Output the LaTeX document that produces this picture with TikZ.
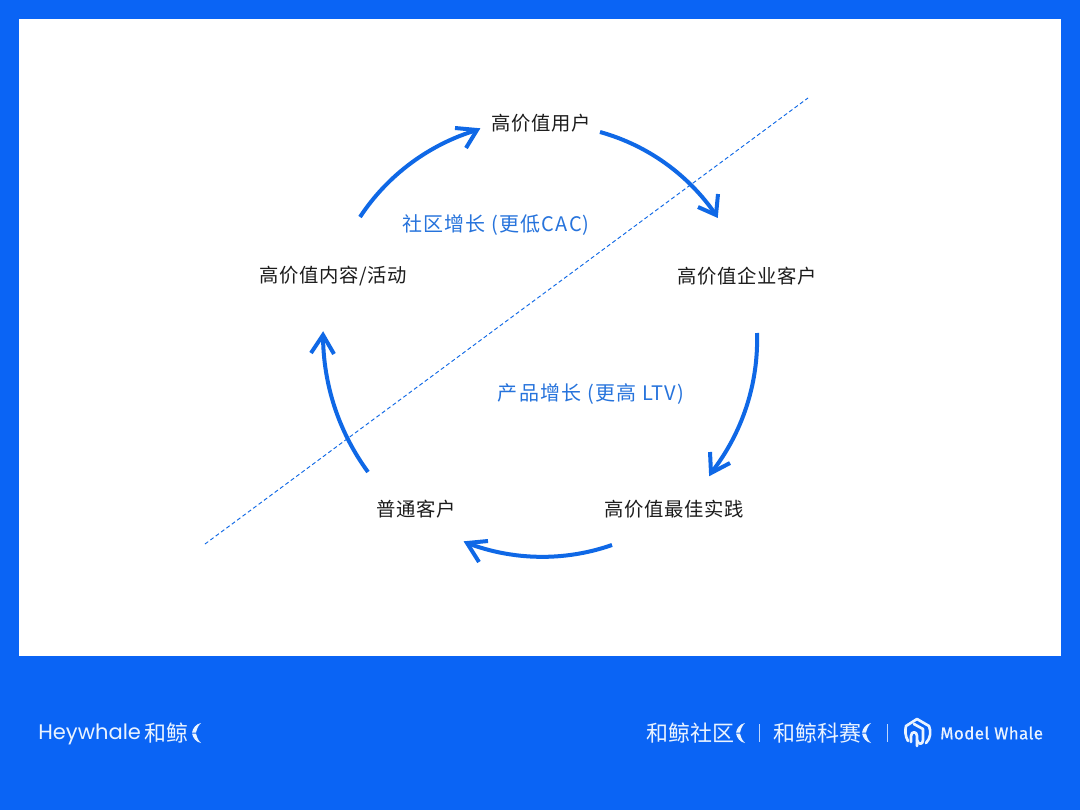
\documentclass[tikz,border=0pt]{standalone}
\usepackage{fontspec}
\setmainfont{Noto Sans CJK SC}
\newfontfamily\cjkstage[LetterSpace=3]{Noto Sans CJK SC}
\newfontfamily\cjkgrowth[LetterSpace=6]{Noto Sans CJK SC}
\newfontfamily\cjkfoot[LetterSpace=1]{Noto Sans CJK SC}
\newfontfamily\latinfoot{Poppins}
\newfontfamily\modelfoot[LetterSpace=2,FakeBold=0.6]{Fira Sans}
\definecolor{brandblue}{HTML}{0A64F5}
\definecolor{arrowblue}{HTML}{0F68E6}
\definecolor{labelblue}{HTML}{2673DC}
\definecolor{inktext}{HTML}{1C1C1C}
\definecolor{footwhite}{HTML}{EAF3FF}
\newcommand{\whalemark}[2]{%
  \begin{scope}[shift={(#1,#2)}]
    \fill[footwhite] (9,0) .. controls (4,1) and (1,5) .. (0,9.5) -- (4,9.5) .. controls (4.5,6) and (6,3) .. (9,0) -- cycle;
    \fill[footwhite] (9,20) .. controls (4,19) and (1,15) .. (0,10.5) -- (4,10.5) .. controls (4.5,14) and (6,17) .. (9,20) -- cycle;
  \end{scope}}
\tikzset{
  stagelabel/.style={font=\cjkstage\fontsize{14.5}{16}\selectfont, text=inktext, inner sep=0pt, anchor=center},
  growthlabel/.style={font=\cjkgrowth\fontsize{15}{16}\selectfont, text=labelblue, inner sep=0pt, anchor=center},
  cyclearc/.style={draw=arrowblue, line width=3pt, bend left=#1, looseness=0.88},
  barbhead/.style={draw=arrowblue, line width=3pt, line join=miter},
  footcjk/.style={font=\cjkfoot\fontsize{16.5}{18}\selectfont, text=footwhite, inner sep=0pt, anchor=west},
  sepline/.style={draw=footwhite!80!brandblue, line width=0.5pt},
  logoline/.style={draw=footwhite, line width=2pt, line join=round, line cap=round}
}
\begin{document}
\begin{tikzpicture}[x=0.75pt,y=-0.75pt]
\useasboundingbox (0,0) rectangle (1080,810);
\fill[brandblue] (0,0) rectangle (1080,810);
\fill[white] (19,19) rectangle (1061,656);

\coordinate (dashA) at (205,544);
\coordinate (dashB) at (808,98);
\draw[arrowblue, line width=0.7pt, dash pattern=on 3pt off 2pt] (dashA) -- (dashB);

\node[stagelabel] (user) at (541,123) {高价值用户};
\node[stagelabel] (ent) at (747,276) {高价值企业客户};
\node[stagelabel] (best) at (674,509) {高价值最佳实践};
\node[stagelabel] (normal) at (416,509) {普通客户};
\node[stagelabel] (content) at (333,276) {高价值内容/活动};
\node[growthlabel] (community) at (496,225) {社区增长 (更低CAC)};
\node[growthlabel] (product) at (591,394) {产品增长 (更高 LTV)};

\coordinate (a1s) at (360,217); \coordinate (a1e) at (477,130);
\coordinate (a1b) at (455,128); \coordinate (a1c) at (466,148);
\coordinate (a2s) at (600,132); \coordinate (a2e) at (716,215);
\coordinate (a2b) at (718,194); \coordinate (a2c) at (698,207);
\coordinate (a3s) at (757,333); \coordinate (a3e) at (711,473);
\coordinate (a3b) at (710,452); \coordinate (a3c) at (730,463);
\coordinate (a4s) at (612,545); \coordinate (a4e) at (467,543);
\coordinate (a4b) at (488,541); \coordinate (a4c) at (479,562);
\coordinate (a5s) at (368,472); \coordinate (a5e) at (323,335);
\coordinate (a5b) at (311,353); \coordinate (a5c) at (334,354);
\draw[cyclearc=20] (a1s) to (a1e);
\draw[barbhead] (a1b) -- (a1e) -- (a1c);
\draw[cyclearc=20] (a2s) to (a2e);
\draw[barbhead] (a2b) -- (a2e) -- (a2c);
\draw[cyclearc=20] (a3s) to (a3e);
\draw[barbhead] (a3b) -- (a3e) -- (a3c);
\draw[cyclearc=20] (a4s) to (a4e);
\draw[barbhead] (a4b) -- (a4e) -- (a4c);
\draw[cyclearc=18] (a5s) to (a5e);
\draw[barbhead] (a5b) -- (a5e) -- (a5c);

% footer left
\node[font=\latinfoot\fontsize{15.8}{18}\selectfont, text=footwhite, inner sep=0pt, anchor=west] (heywhale) at (38,734.5) {Heywhale};
\node[footcjk] (hejing) at (144,733) {和鲸};
\whalemark{192}{723}

% footer right
\node[footcjk] (community2) at (646,733) {和鲸社区};
\whalemark{736}{723}
\coordinate (sep1a) at (759,724); \coordinate (sep1b) at (759,742);
\draw[sepline] (sep1a) -- (sep1b);
\node[footcjk] (kesai) at (773,733) {和鲸科赛};
\whalemark{862}{723}
\coordinate (sep2a) at (887,724); \coordinate (sep2b) at (887,742);
\draw[sepline] (sep2a) -- (sep2b);
\draw[logoline] (908,741) .. controls (905,736) and (905,730) .. (906,726) -- (917,719) -- (929,726) .. controls (931,731) and (931,738) .. (926,743);
\draw[logoline] (911,742) -- (911,736) .. controls (911,731) and (917,731) .. (917,736) -- (917,746);
\draw[logoline] (917,740) .. controls (918,745) and (923,745) .. (923,740) -- (923,729) -- (914,724);
\node[font=\modelfoot\fontsize{12.8}{16}\selectfont, text=footwhite, inner sep=0pt, anchor=west] (model) at (940,733) {Model Whale};
\end{tikzpicture}
\end{document}
